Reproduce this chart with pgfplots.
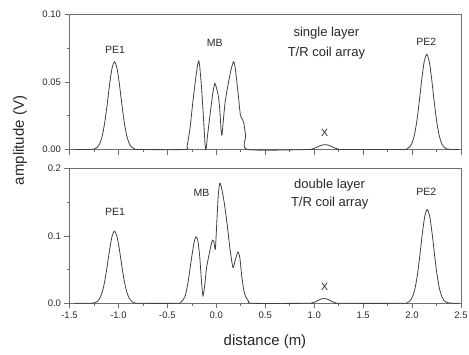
\documentclass[border=0pt]{standalone}
\usepackage{pgfplots}
\pgfplotsset{compat=1.18}
\usepackage{pgfplotstable}
\usepackage{fontspec}
\setmainfont{Liberation Sans}

\pgfplotstableread{
x y
-1.45 0
-1.29 0
-1.24 0.0006
-1.215 0.0017
-1.19 0.0045
-1.165 0.0102
-1.14 0.0199
-1.115 0.0334
-1.09 0.0484
-1.065 0.0604
-1.04 0.065
-1.015 0.0604
-0.99 0.0484
-0.965 0.0334
-0.94 0.0199
-0.915 0.0102
-0.89 0.0045
-0.865 0.0017
-0.84 0.0006
-0.79 0
-0.32 0
-0.30 0.002
-0.27 0.015
-0.24 0.035
-0.21 0.053
-0.19 0.063
-0.18 0.0656
-0.17 0.062
-0.15 0.045
-0.13 0.022
-0.115 0.004
-0.105 0.0
-0.09 0.010
-0.06 0.028
-0.035 0.042
-0.015 0.049
0.0 0.046
0.02 0.040
0.035 0.030
0.05 0.013
0.058 0.0107
0.07 0.020
0.09 0.035
0.12 0.048
0.15 0.059
0.175 0.065
0.19 0.062
0.21 0.050
0.228 0.038
0.245 0.026
0.26 0.023
0.28 0.020
0.30 0.010
0.32 0.0
0.95 0
0.98 0.0004
1.01 0.0011
1.04 0.0021
1.07 0.0031
1.11 0.0036
1.15 0.0031
1.18 0.0021
1.21 0.0011
1.24 0.0004
1.27 0
1.90 0
1.95 0.0006
1.975 0.0019
2.0 0.0049
2.025 0.0111
2.05 0.0216
2.075 0.0362
2.10 0.0525
2.125 0.0655
2.15 0.0705
2.175 0.0655
2.2 0.0525
2.225 0.0362
2.25 0.0216
2.275 0.0111
2.3 0.0049
2.325 0.0019
2.35 0.0006
2.40 0
2.48 0
}\sgltab

\pgfplotstableread{
x y
-1.45 0
-1.29 0
-1.24 0.0009
-1.215 0.0029
-1.19 0.0075
-1.165 0.0168
-1.14 0.0327
-1.115 0.0550
-1.09 0.0796
-1.065 0.0994
-1.04 0.107
-1.015 0.0994
-0.99 0.0796
-0.965 0.0550
-0.94 0.0327
-0.915 0.0168
-0.89 0.0075
-0.865 0.0029
-0.84 0.0009
-0.79 0
-0.40 0
-0.36 0.002
-0.32 0.010
-0.29 0.030
-0.26 0.060
-0.23 0.088
-0.209 0.0985
-0.19 0.094
-0.17 0.070
-0.15 0.030
-0.136 0.011
-0.12 0.025
-0.10 0.052
-0.08 0.068
-0.06 0.082
-0.04 0.0936
-0.025 0.091
-0.01 0.080
0.005 0.120
0.02 0.160
0.036 0.178
0.055 0.170
0.08 0.150
0.11 0.118
0.14 0.080
0.17 0.053
0.19 0.062
0.22 0.076
0.24 0.068
0.26 0.040
0.28 0.020
0.30 0.010
0.33 0.003
0.37 0.0
0.95 0
0.98 0.0008
1.01 0.0022
1.04 0.0043
1.07 0.0064
1.10 0.0072
1.13 0.0064
1.16 0.0043
1.19 0.0022
1.22 0.0008
1.26 0
1.90 0
1.955 0.0012
1.98 0.0037
2.005 0.0097
2.03 0.0218
2.055 0.0425
2.08 0.0714
2.105 0.1034
2.13 0.1291
2.155 0.139
2.18 0.1291
2.205 0.1034
2.23 0.0714
2.255 0.0425
2.28 0.0218
2.305 0.0097
2.33 0.0037
2.355 0.0012
2.41 0
2.48 0
}\dbltab

\definecolor{axgray}{RGB}{110,110,110}
\definecolor{txtgray}{RGB}{40,40,40}

\tikzset{
  lab/.style={font=\fontsize{10.5}{12}\selectfont, text=txtgray},
  biglab/.style={font=\fontsize{13}{15}\selectfont, text=txtgray},
}

\pgfplotsset{
  panel/.style={
    scale only axis,
    width=391.5pt, height=135pt,
    anchor=south west,
    xmin=-1.5, xmax=2.5,
    ymin=0,
    axis line style={axgray, line width=0.7pt},
    every tick/.style={axgray, line width=0.6pt},
    tick align=outside,
    xtick pos=bottom, ytick pos=left,
    major tick length=5pt, minor tick length=2.5pt,
    minor x tick num=1, minor y tick num=1,
    xtick={-1.5,-1,-0.5,0,0.5,1,1.5,2,2.5},
    tick label style={font=\fontsize{9.5}{11}\selectfont, text=txtgray},
    clip=false,
  },
  curve/.style={black!75, line width=0.8pt, mark=none, smooth, tension=0.4},
}

\begin{document}
\begin{tikzpicture}
\begin{axis}[panel, at={(69.5pt,204.5pt)},
  ymax=0.1, ytick={0,0.05,0.1}, yticklabels={0.00,0.05,0.10},
  xticklabels={}]
\addplot[curve] table[x=x,y=y] {\sgltab};
\node[lab] at (axis cs:-1.035,0.0737) {PE1};
\node[lab] at (axis cs:-0.015,0.0787) {MB};
\node[lab] at (axis cs:2.145,0.0799) {PE2};
\node[lab] at (axis cs:1.107,0.012) {X};
\node[biglab] at (axis cs:1.125,0.086) {single layer};
\node[biglab] at (axis cs:1.125,0.0713) {T/R coil array};
\end{axis}
\begin{axis}[panel, at={(69.5pt,50.7pt)},
  ymax=0.2, ytick={0,0.1,0.2}, yticklabels={0.0,0.1,0.2},
  xticklabels={-1.5,-1.0,-0.5,0.0,0.5,1.0,1.5,2.0,2.5}]
\addplot[curve] table[x=x,y=y] {\dbltab};
\node[lab] at (axis cs:-1.035,0.135) {PE1};
\node[lab] at (axis cs:-0.151,0.163) {MB};
\node[lab] at (axis cs:2.145,0.165) {PE2};
\node[lab] at (axis cs:1.107,0.0246) {X};
\node[biglab] at (axis cs:1.158,0.175) {double layer};
\node[biglab] at (axis cs:1.158,0.148) {T/R coil array};
\end{axis}
\node[rotate=90, font=\fontsize{15}{17}\selectfont, text=txtgray] at (20pt,213.5pt) {amplitude (V)};
\node[font=\fontsize{15}{17}\selectfont, text=txtgray] at (265pt,12pt) {distance (m)};
\pgfresetboundingbox
\path[use as bounding box] (0pt,0pt) rectangle (469pt,354pt);
\end{tikzpicture}
\end{document}
